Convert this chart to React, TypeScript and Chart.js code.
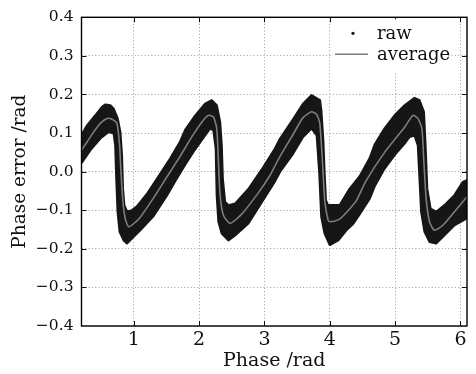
import { useEffect, useRef } from "react";
import { Chart, registerables } from "chart.js";

Chart.register(...registerables);

// ---- data ----
const avgPhase = [
  0.2, 0.285, 0.387, 0.488, 0.59, 0.666, 0.743, 0.783, 0.804, 0.834, 0.87, 0.921, 0.997, 1.099, 1.303, 1.506,
  1.71, 1.888, 2.05, 2.143, 2.219, 2.27, 2.296, 2.321, 2.372, 2.474, 2.652, 2.906, 3.084, 3.161, 3.24, 3.44,
  3.59, 3.72, 3.8, 3.847, 3.888, 3.924, 3.975, 4.0, 4.13, 4.204, 4.407, 4.55, 4.839, 5.145, 5.272, 5.348,
  5.409, 5.44, 5.475, 5.526, 5.603, 5.73, 5.908, 6.1,
];
const avgValue = [
  0.056, 0.077, 0.103, 0.125, 0.138, 0.136, 0.125, 0.068, 0.0, -0.078, -0.122, -0.143, -0.135, -0.118, -0.068, -0.014,
  0.04, 0.09, 0.13, 0.146, 0.142, 0.112, 0.025, -0.061, -0.113, -0.134, -0.11, -0.055, -0.01, 0.015, 0.04, 0.097,
  0.14, 0.155, 0.148, 0.125, 0.025, -0.078, -0.126, -0.13, -0.125, -0.115, -0.075, -0.025, 0.05, 0.115, 0.146, 0.138,
  0.112, 0.025, -0.07, -0.13, -0.152, -0.139, -0.104, -0.065,
];

const rawUpperPhase = [
  0.2, 0.285, 0.412, 0.514, 0.565, 0.641, 0.692, 0.753, 0.794, 0.819, 0.834, 0.855, 0.896, 0.972, 1.048, 1.201,
  1.404, 1.557, 1.71, 1.787, 1.939, 2.092, 2.194, 2.27, 2.321, 2.346, 2.362, 2.397, 2.448, 2.55, 2.754, 2.957,
  3.161, 3.237, 3.44, 3.59, 3.72, 3.85, 3.87, 3.9, 3.92, 3.94, 3.97, 4.15, 4.305, 4.458, 4.611, 4.687,
  4.839, 4.992, 5.145, 5.297, 5.374, 5.44, 5.465, 5.491, 5.542, 5.628, 5.755, 5.908, 6.035, 6.1,
];
const rawUpperValue = [
  0.095, 0.12, 0.146, 0.168, 0.174, 0.172, 0.163, 0.138, 0.103, 0.043, -0.044, -0.087, -0.104, -0.1, -0.09, -0.058,
  -0.006, 0.034, 0.078, 0.108, 0.145, 0.176, 0.185, 0.172, 0.129, 0.068, -0.018, -0.078, -0.087, -0.083, -0.045, 0.005,
  0.06, 0.085, 0.136, 0.176, 0.198, 0.185, 0.159, 0.081, -0.004, -0.074, -0.087, -0.087, -0.044, -0.012, 0.035, 0.07,
  0.112, 0.146, 0.172, 0.191, 0.185, 0.155, 0.068, -0.044, -0.096, -0.104, -0.087, -0.061, -0.027, -0.022,
];

const rawLowerPhase = [
  0.2, 0.336, 0.488, 0.616, 0.692, 0.717, 0.733, 0.753, 0.784, 0.845, 0.896, 0.972, 1.099, 1.303, 1.506, 1.634,
  1.787, 1.939, 2.092, 2.168, 2.219, 2.255, 2.27, 2.296, 2.346, 2.448, 2.55, 2.754, 2.957, 3.161, 3.24, 3.44,
  3.59, 3.72, 3.8, 3.84, 3.87, 3.92, 4.0, 4.13, 4.254, 4.36, 4.458, 4.611, 4.687, 4.839, 4.992, 5.145,
  5.221, 5.297, 5.348, 5.374, 5.399, 5.45, 5.526, 5.628, 5.755, 5.908, 6.1,
];
const rawLowerValue = [
  0.022, 0.056, 0.086, 0.103, 0.099, 0.068, -0.018, -0.104, -0.156, -0.178, -0.186, -0.173, -0.152, -0.115, -0.062, -0.025,
  0.018, 0.058, 0.094, 0.112, 0.107, 0.06, -0.061, -0.13, -0.16, -0.178, -0.165, -0.134, -0.08, -0.025, 0.0, 0.047,
  0.09, 0.112, 0.094, -0.004, -0.117, -0.16, -0.19, -0.178, -0.152, -0.135, -0.11, -0.07, -0.038, 0.008, 0.043, 0.073,
  0.09, 0.094, 0.068, -0.018, -0.104, -0.156, -0.182, -0.186, -0.165, -0.139, -0.121,
];

const xTickValues = [1, 2, 3, 4, 5, 6];
const yTickValues = [-0.4, -0.3, -0.2, -0.1, 0, 0.1, 0.2, 0.3, 0.4];
const seriesLabels = ["raw", "average"];
const xTitle = "Phase /rad";
const yTitle = "Phase error /rad";

const FONT = "'DejaVu Serif', 'Liberation Serif', serif";
const RAW_COLOR = "#161616";
const AVG_COLOR = "#7d7d7d";
const GRID_COLOR = "#9c9c9c";

const fmtY = (v: number) => {
  const r = Math.round(v * 10) / 10;
  if (r === 0) return "0.0";
  return (r < 0 ? "\u2212" : "") + Math.abs(r).toFixed(1);
};

const framePlugin = {
  id: "frameTicks",
  afterDatasetsDraw(chart: any) {
    const { ctx, chartArea } = chart;
    const { left, right, top, bottom } = chartArea;
    const xs = chart.scales.x;
    const ys = chart.scales.y;
    const tl = 5;
    ctx.save();
    ctx.strokeStyle = "#111";
    ctx.lineWidth = 1;
    ctx.beginPath();
    for (const v of xTickValues) {
      const px = Math.round(xs.getPixelForValue(v)) + 0.5;
      ctx.moveTo(px, bottom);
      ctx.lineTo(px, bottom - tl);
      ctx.moveTo(px, top);
      ctx.lineTo(px, top + tl);
    }
    for (const v of yTickValues) {
      if (Math.abs(v) > 0.35) continue;
      const py = Math.round(ys.getPixelForValue(v)) + 0.5;
      ctx.moveTo(left, py);
      ctx.lineTo(left + tl, py);
      ctx.moveTo(right, py);
      ctx.lineTo(right - tl, py);
    }
    ctx.stroke();
    ctx.lineWidth = 1.4;
    ctx.strokeStyle = "#000";
    ctx.strokeRect(left, top, right - left, bottom - top);
    ctx.restore();
  },
};

const legendPlugin = {
  id: "boxLegend",
  afterDraw(chart: any) {
    const { ctx, chartArea } = chart;
    const bx = chartArea.right - 134;
    const by = chartArea.top + 2;
    ctx.save();
    ctx.fillStyle = "#fff";
    ctx.fillRect(bx, by, 115, 52);
    ctx.fillStyle = RAW_COLOR;
    ctx.beginPath();
    ctx.arc(bx + 20, by + 14, 1.6, 0, Math.PI * 2);
    ctx.fill();
    ctx.strokeStyle = AVG_COLOR;
    ctx.lineWidth = 1.5;
    ctx.beginPath();
    ctx.moveTo(bx + 2, by + 35);
    ctx.lineTo(bx + 35, by + 35);
    ctx.stroke();
    ctx.fillStyle = "#111";
    ctx.font = `18px ${FONT}`;
    ctx.textBaseline = "alphabetic";
    ctx.textAlign = "left";
    ctx.fillText(seriesLabels[0], bx + 44, by + 20);
    ctx.fillText(seriesLabels[1], bx + 44, by + 41);
    ctx.restore();
  },
};

export default function App() {
  const ref = useRef<HTMLCanvasElement | null>(null);

  useEffect(() => {
    if (!ref.current) return;
    const band = [
      ...rawUpperPhase.map((x, i) => ({ x, y: rawUpperValue[i] })),
      ...rawLowerPhase.map((x, i) => ({ x, y: rawLowerValue[i] })).reverse(),
    ];
    const avg = avgPhase.map((x, i) => ({ x, y: avgValue[i] }));

    const chart = new Chart(ref.current, {
      type: "scatter",
      data: {
        datasets: [
          {
            label: seriesLabels[0],
            data: band,
            order: 2,
            showLine: true,
            fill: "shape",
            backgroundColor: RAW_COLOR,
            borderColor: RAW_COLOR,
            borderWidth: 2.2,
            borderJoinStyle: "round",
            pointRadius: 0,
            tension: 0,
          } as any,
          {
            label: seriesLabels[1],
            data: avg,
            order: 1,
            showLine: true,
            fill: false,
            borderColor: AVG_COLOR,
            borderWidth: 1.6,
            pointRadius: 0,
            tension: 0.2,
          },
        ],
      },
      options: {
        responsive: false,
        animation: false,
        layout: { padding: { left: 0, top: 17, right: 9, bottom: 0 } },
        plugins: {
          legend: { display: false },
          tooltip: { enabled: false },
        },
        scales: {
          x: {
            type: "linear",
            min: 0.2,
            max: 6.1,
            afterBuildTicks: (s: any) => {
              s.ticks = xTickValues.map((v) => ({ value: v }));
            },
            afterFit: (s: any) => {
              s.height = 48;
            },
            ticks: {
              color: "#111",
              padding: 3,
              font: { family: FONT, size: 19 },
              callback: (v: any) => String(v),
              maxRotation: 0,
            },
            grid: { color: GRID_COLOR, lineWidth: 1, drawTicks: false },
            border: { display: false, dash: [1, 2.3] },
            title: {
              display: true,
              text: xTitle,
              color: "#111",
              font: { family: FONT, size: 19 },
              padding: { top: 0, bottom: 2 },
            },
          },
          y: {
            type: "linear",
            min: -0.4,
            max: 0.4,
            afterBuildTicks: (s: any) => {
              s.ticks = yTickValues.map((v) => ({ value: v }));
            },
            afterFit: (s: any) => {
              s.width = 81.5;
            },
            ticks: {
              color: "#111",
              padding: 8,
              font: { family: FONT, size: 15.5 },
              callback: (v: any) => fmtY(Number(v)),
            },
            grid: { color: GRID_COLOR, lineWidth: 1, drawTicks: false },
            border: { display: false, dash: [1, 2.3] },
            title: {
              display: true,
              text: yTitle,
              color: "#111",
              font: { family: FONT, size: 18.5 },
              padding: { top: 9, bottom: 0 },
            },
          },
        },
      },
      plugins: [framePlugin, legendPlugin],
    });
    return () => chart.destroy();
  }, []);

  return (
    <div style={{ position: "absolute", left: 0, top: 0, width: 476, height: 374, background: "#fff" }}>
      <canvas ref={ref} width={476} height={374} style={{ display: "block" }} />
    </div>
  );
}
